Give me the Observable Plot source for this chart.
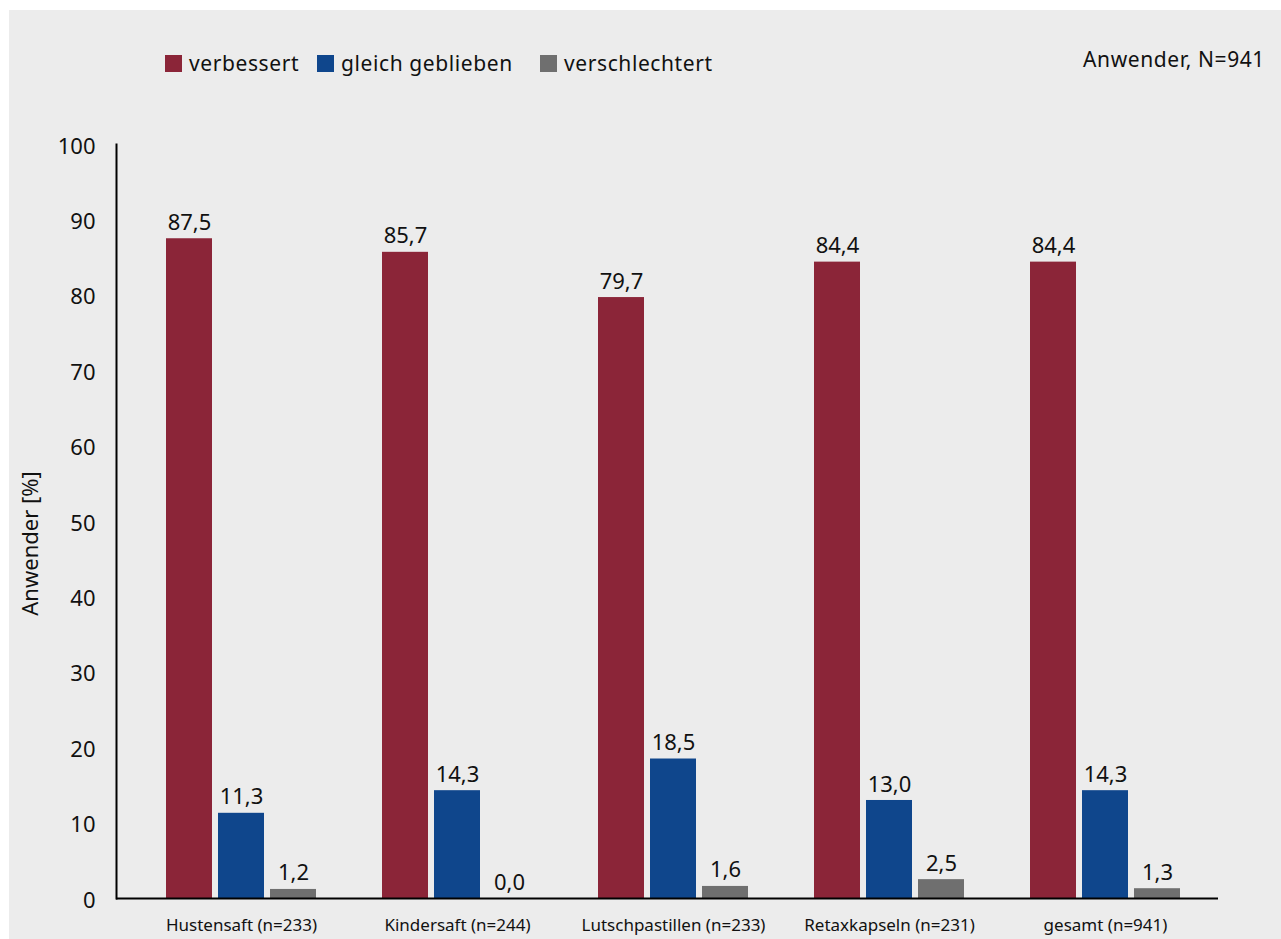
<!DOCTYPE html>
<html>
<head>
<meta charset="utf-8">
<script src="https://cdn.jsdelivr.net/npm/d3@7"></script>
<script src="https://cdn.jsdelivr.net/npm/@observablehq/plot@0.6"></script>
<style>
  html, body { margin: 0; padding: 0; background: #ffffff; }
  #wrap { position: absolute; left: 9px; top: 10px; width: 1272px; height: 929px; background: #ececec; overflow: hidden; font-family: "Noto Sans", sans-serif; color: #111; }
  #header { position: relative; height: 100px; }
  .item { position: absolute; top: 45px; height: 17px; display: flex; align-items: center; gap: 7px; font-size: 21px; line-height: 1; white-space: nowrap; letter-spacing: 0.6px; }
  .sw { width: 17px; height: 17px; flex: none; }
  #note { position: absolute; right: 16px; top: 37px; font-size: 21px; line-height: 24px; letter-spacing: 0.6px; }
  svg { display: block; }
</style>
</head>
<body>
<div id="wrap">
  <div id="header"></div>
  <div id="chart"></div>
</div>
<script>
const categories = ["Hustensaft (n=233)", "Kindersaft (n=244)", "Lutschpastillen (n=233)", "Retaxkapseln (n=231)", "gesamt (n=941)"];
const seriesNames = ["verbessert", "gleich geblieben", "verschlechtert"];
const seriesColors = ["#8b2538", "#0f468c", "#6f6f6f"];
const verbessert = [87.5, 85.7, 79.7, 84.4, 84.4];
const gleichGeblieben = [11.3, 14.3, 18.5, 13.0, 14.3];
const verschlechtert = [1.2, 0.0, 1.6, 2.5, 1.3];
const yTicks = [0, 10, 20, 30, 40, 50, 60, 70, 80, 90, 100];
const noteText = "Anwender, N=941";
const yLabel = "Anwender [%]";

const seriesValues = [verbessert, gleichGeblieben, verschlechtert];
const rows = [];
seriesValues.forEach((vals, s) => vals.forEach((v, i) => rows.push({cat: categories[i], series: seriesNames[s], value: v})));

// legend
const header = document.getElementById("header");
const legendX = [156, 308, 531];
seriesNames.forEach((name, i) => {
  const it = document.createElement("div");
  it.className = "item";
  it.style.left = legendX[i] + "px";
  it.innerHTML = `<span class="sw" style="background:${seriesColors[i]}"></span><span>${name}</span>`;
  header.appendChild(it);
});
const note = document.createElement("div");
note.id = "note";
note.textContent = noteText;
header.appendChild(note);

const fmt = v => d3.format(".1f")(v).replace(".", ",");
const insets = [[0, 104], [52, 52], [104, 0]];
const offsets = [-52, 0, 52];

const marks = [];
seriesNames.forEach((name, s) => {
  const data = rows.filter(r => r.series === name);
  marks.push(Plot.barY(data, {x: "cat", y: "value", fill: seriesColors[s], insetLeft: insets[s][0], insetRight: insets[s][1]}));
  marks.push(Plot.text(data, {x: "cat", y: "value", text: d => fmt(d.value), dx: offsets[s], dy: -16, fontSize: 22, fill: "#111", style: "letter-spacing:0.8px"}));
});

const chart = Plot.plot({
  width: 1272,
  height: 829,
  marginLeft: 107,
  marginRight: 63,
  marginTop: 34,
  marginBottom: 41,
  style: {fontFamily: "Noto Sans, sans-serif", background: "transparent", color: "#111"},
  x: {domain: categories, range: [156, 1171], paddingInner: 0.3063, paddingOuter: 0},
  y: {domain: [0, 100]},
  marks: [
    ...marks,
    Plot.axisX({tickSize: 0, tickPadding: 20, fontSize: 17, label: null}),
    Plot.axisY({ticks: yTicks, tickSize: 0, tickPadding: 21, fontSize: 22, label: null, dy: 2}),
    Plot.text([yLabel], {frameAnchor: "left", textAnchor: "middle", lineAnchor: "middle", rotate: -90, dx: -86, dy: 22, fontSize: 22, fill: "#111"}),
    Plot.frame({anchor: "left", stroke: "#000", strokeWidth: 2}),
    Plot.ruleY([0], {stroke: "#000", strokeWidth: 2})
  ]
});
document.getElementById("chart").appendChild(chart);
</script>
</body>
</html>
